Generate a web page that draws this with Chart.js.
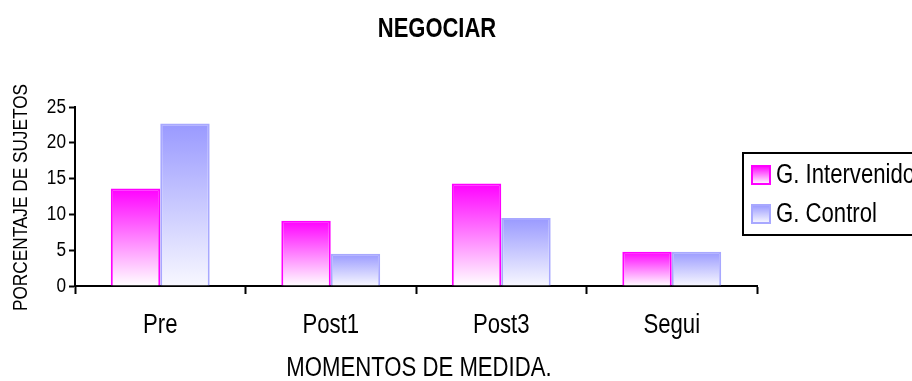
<!DOCTYPE html>
<html>
<head>
<meta charset="utf-8">
<script src="https://cdn.jsdelivr.net/npm/chart.js@4.4.1/dist/chart.umd.min.js"></script>
<style>
  html, body { margin: 0; padding: 0; background: #fff; }
  #wrap { width: 912px; height: 381px; position: relative; }
</style>
</head>
<body>
<div id="wrap"><canvas id="c" width="912" height="381"></canvas></div>
<script>
// Data
const categories = ['Pre', 'Post1', 'Post3', 'Segui'];
const intervenido = [13.6, 9.1, 14.3, 4.8];
const control = [22.7, 4.5, 9.5, 4.8];
const seriesNames = ['G. Intervenido', 'G. Control'];
const yTicks = [0, 5, 10, 15, 20, 25];
const chartTitle = 'NEGOCIAR';
const xTitle = 'MOMENTOS DE MEDIDA.';
const yTitle = 'PORCENTAJE DE SUJETOS';

const FONT = '"Liberation Sans", Arial, sans-serif';
const NARROW = 0.82; // horizontal squeeze for a narrow typeface look

// Vertical gradient per bar: strong colour at the top, fading to white at the base
function barGradient(top, bottom) {
  return function (ctx) {
    const chart = ctx.chart;
    const ys = chart.scales && chart.scales.y;
    if (!chart.chartArea || !ys || ctx.parsed === undefined) return top;
    const yTop = ys.getPixelForValue(ctx.parsed.y);
    const yBase = ys.getPixelForValue(0);
    const g = chart.ctx.createLinearGradient(0, yTop, 0, yBase);
    g.addColorStop(0, top);
    g.addColorStop(1, bottom);
    return g;
  };
}

function swatchGradient(c, y0, y1, top, bottom) {
  const g = c.createLinearGradient(0, y0, 0, y1);
  g.addColorStop(0, top);
  g.addColorStop(1, bottom);
  return g;
}

// Condensed text helper
function narrowText(c, text, x, y, font, align, sx, rot) {
  c.save();
  c.translate(x, y);
  if (rot) c.rotate(rot);
  c.scale(sx, 1);
  c.font = font;
  c.textAlign = align;
  c.textBaseline = 'middle';
  c.fillStyle = '#000';
  c.fillText(text, 0, 0);
  c.restore();
}

const palette = [
  { top: '#FF00FF', bottom: '#FFFFFF', border: '#FF00FF' },
  { top: '#9999FF', bottom: '#F8F8FF', border: '#A8A8FF' }
];

// Title, axis labels and boxed legend
const decorations = {
  id: 'decorations',
  afterDraw(chart) {
    const c = chart.ctx;
    const xs = chart.scales.x;
    const ys = chart.scales.y;
    const area = chart.chartArea;

    narrowText(c, chartTitle, 437, 29, 'bold 28px ' + FONT, 'center', 0.785);

    // category labels
    categories.forEach((lab, i) => {
      narrowText(c, lab, xs.getPixelForValue(i), 326, '27px ' + FONT, 'center', NARROW);
    });
    narrowText(c, xTitle, (area.left + area.right) / 2 + 3, 369, '27px ' + FONT, 'center', NARROW);

    // value labels
    yTicks.forEach(v => {
      narrowText(c, String(v), area.left - 9, ys.getPixelForValue(v), '20px ' + FONT, 'right', 0.86);
    });
    narrowText(c, yTitle, 21, (area.top + area.bottom) / 2 + 1, '21px ' + FONT, 'center', NARROW, -Math.PI / 2);

    // legend
    c.save();
    c.lineWidth = 2;
    c.strokeStyle = '#000';
    c.strokeRect(743, 153, 180, 82);
    chart.data.datasets.forEach((ds, i) => {
      const cy = 175 + i * 39;
      const p = palette[i];
      c.fillStyle = swatchGradient(c, cy - 9, cy + 9, p.top, p.bottom);
      c.fillRect(752, cy - 9, 18, 18);
      c.lineWidth = 2;
      c.strokeStyle = p.border;
      c.strokeRect(752, cy - 9, 18, 18);
      narrowText(c, ds.label, 776, cy + 1, '27px ' + FONT, 'left', NARROW);
    });
    c.restore();
  }
};

new Chart(document.getElementById('c'), {
  type: 'bar',
  data: {
    labels: categories,
    datasets: [
      {
        label: seriesNames[0],
        data: intervenido,
        backgroundColor: barGradient(palette[0].top, palette[0].bottom),
        borderColor: palette[0].border,
        borderWidth: { top: 2, left: 2, right: 2, bottom: 0 },
        borderSkipped: 'bottom'
      },
      {
        label: seriesNames[1],
        data: control,
        backgroundColor: barGradient(palette[1].top, palette[1].bottom),
        borderColor: palette[1].border,
        borderWidth: { top: 2, left: 2, right: 2, bottom: 0 },
        borderSkipped: 'bottom'
      }
    ]
  },
  options: {
    responsive: false,
    animation: false,
    layout: { padding: { left: 0, right: 155, top: 107, bottom: 0 } },
    categoryPercentage: 0.58,
    barPercentage: 1.0,
    plugins: {
      legend: { display: false },
      title: { display: false },
      tooltip: { enabled: false }
    },
    scales: {
      x: {
        offset: true,
        grid: {
          offset: true,
          drawOnChartArea: false,
          drawTicks: true,
          tickLength: 8,
          tickColor: '#000',
          tickWidth: 2
        },
        border: { display: true, color: '#000', width: 2 },
        ticks: { display: false },
        afterFit(scale) { scale.height = 95; }
      },
      y: {
        min: 0,
        max: 25,
        afterBuildTicks(scale) { scale.ticks = yTicks.map(v => ({ value: v })); },
        grid: {
          drawOnChartArea: false,
          drawTicks: true,
          tickLength: 6,
          tickColor: '#000',
          tickWidth: 2
        },
        border: { display: true, color: '#000', width: 2 },
        ticks: { display: false },
        afterFit(scale) { scale.width = 75; }
      }
    }
  },
  plugins: [decorations]
});
</script>
</body>
</html>
